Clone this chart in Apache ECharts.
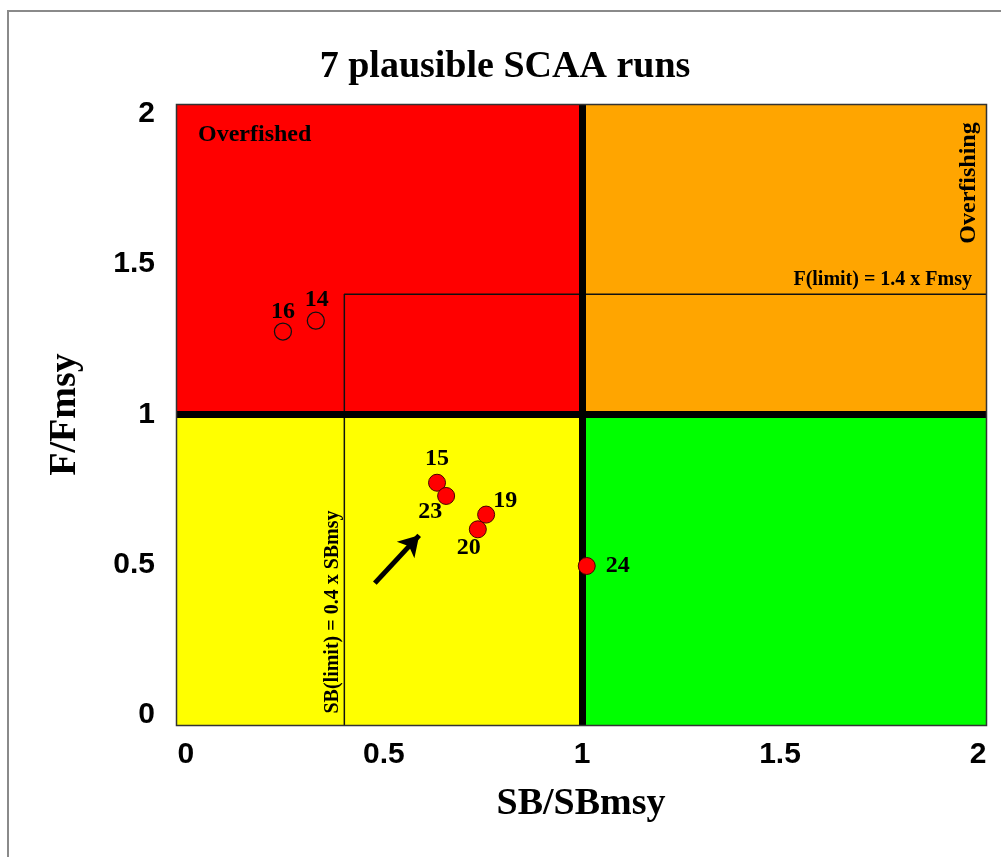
<!DOCTYPE html>
<html>
<head>
<meta charset="utf-8">
<script src="https://cdn.jsdelivr.net/npm/echarts@6/dist/echarts.min.js"></script>
<style>
html,body{margin:0;padding:0;background:#fff;}
#chart{width:1001px;height:857px;}
</style>
</head>
<body>
<div id="chart"></div>
<script>
// ---- data ----
const runIds   = ['16', '14', '15', '23', '19', '20', '24'];
const sbRatio  = [0.245, 0.328, 0.634, 0.657, 0.758, 0.737, 1.012];
const fRatio   = [1.276, 1.312, 0.773, 0.729, 0.667, 0.618, 0.496];
const openMark = [true, true, false, false, false, false, false];
const xTicks = [0, 0.5, 1, 1.5, 2];
const yTicks = [0, 0.5, 1, 1.5, 2];
const msyRef = 1;          // SB/SBmsy = 1 and F/Fmsy = 1
const sbLimit = 0.4;       // SB(limit) = 0.4 x SBmsy
const fLimit = 1.4;        // F(limit) = 1.4 x Fmsy
const arrowTail = [0.477, 0.439];
const arrowHead = [0.589, 0.598];

// ---- layout / styles ----
const X_MIN = -0.025, X_MAX = 2.02, Y_MIN = -0.033, Y_MAX = 2.033;
const SERIF = "'Liberation Serif', 'DejaVu Serif', serif";
const SANS = "'Liberation Sans', Arial, sans-serif";
const labelOffset = {
  '16': [0, -20], '14': [1, -21], '15': [0, -24], '23': [-16, 16],
  '19': [19, -14], '20': [-9, 18], '24': [31, 0]
};

const pts = runIds.map((id, i) => ({
  value: [sbRatio[i], fRatio[i]],
  name: id,
  itemStyle: openMark[i]
    ? { color: 'rgba(0,0,0,0)', borderColor: '#111', borderWidth: 1.3, opacity: 1 }
    : { color: '#FF0000', borderColor: '#4a0000', borderWidth: 1, opacity: 1 },
  label: { offset: labelOffset[id] }
}));

const chart = echarts.init(document.getElementById('chart'), null, { renderer: 'canvas' });
const axisCommon = {
  type: 'value',
  splitLine: { show: false },
  axisLine: { show: false },
  axisTick: { show: true, length: 8, lineStyle: { color: '#999', width: 1.5 } },
  axisLabel: { fontFamily: SANS, fontWeight: 'bold', fontSize: 30, color: '#000' }
};

chart.setOption({
  animation: false,
  backgroundColor: '#fff',
  grid: { left: 176, top: 104, right: 15, bottom: 132 },
  xAxis: Object.assign({}, axisCommon, {
    min: X_MIN, max: X_MAX,
    name: 'SB/SBmsy', nameLocation: 'middle', nameGap: 60,
    nameTextStyle: { fontFamily: SERIF, fontWeight: 'bold', fontSize: 38, color: '#000' },
    axisTick: Object.assign({}, axisCommon.axisTick, { customValues: xTicks }),
    axisLabel: Object.assign({}, axisCommon.axisLabel, { customValues: xTicks, margin: 15,
      formatter: v => String(v) })
  }),
  yAxis: Object.assign({}, axisCommon, {
    min: Y_MIN, max: Y_MAX,
    name: 'F/Fmsy', nameLocation: 'middle', nameGap: 92,
    nameTextStyle: { fontFamily: SERIF, fontWeight: 'bold', fontSize: 38, color: '#000' },
    axisTick: Object.assign({}, axisCommon.axisTick, { customValues: yTicks }),
    axisLabel: Object.assign({}, axisCommon.axisLabel, { customValues: yTicks, margin: 21,
      formatter: v => String(v) })
  }),
  series: [
    {
      name: 'zones', type: 'scatter', data: [], z: 1, silent: true,
      markArea: {
        silent: true,
        label: { show: false },
        data: [
          [{ coord: [X_MIN, msyRef], itemStyle: { color: '#FF0000', opacity: 1 } }, { coord: [msyRef, Y_MAX] }],
          [{ coord: [msyRef, msyRef], itemStyle: { color: '#FFA500', opacity: 1 } }, { coord: [X_MAX, Y_MAX] }],
          [{ coord: [X_MIN, Y_MIN], itemStyle: { color: '#FFFF00', opacity: 1 } }, { coord: [msyRef, msyRef] }],
          [{ coord: [msyRef, Y_MIN], itemStyle: { color: '#00FF00', opacity: 1 } }, { coord: [X_MAX, msyRef] }]
        ]
      }
    },
    {
      name: 'limits', type: 'line', z: 2, silent: true, symbol: 'none',
      lineStyle: { color: '#111', width: 1.5 },
      data: [[sbLimit, Y_MIN], [sbLimit, fLimit], [X_MAX, fLimit]]
    },
    {
      name: 'msy', type: 'scatter', data: [], z: 3, silent: true,
      markLine: {
        silent: true, symbol: 'none', label: { show: false },
        lineStyle: { color: '#000', width: 7, type: 'solid', opacity: 1 },
        data: [{ xAxis: msyRef }, { yAxis: msyRef }]
      }
    },
    {
      name: 'arrow', type: 'scatter', data: [], z: 4, silent: true,
      markLine: {
        silent: true, symbol: ['none', 'arrow'], symbolSize: [18, 20],
        label: { show: false },
        lineStyle: { color: '#000', width: 5, type: 'solid', opacity: 1 },
        data: [[{ coord: arrowTail }, { coord: arrowHead }]]
      }
    },
    {
      name: 'runs', type: 'scatter', z: 5, symbol: 'circle', symbolSize: 17,
      data: pts,
      label: {
        show: true, position: 'inside', formatter: p => p.name,
        fontFamily: SERIF, fontWeight: 'bold', fontSize: 24, color: '#000',
        textBorderWidth: 0
      }
    }
  ],
  graphic: [
    { type: 'polyline', z: 100, silent: true,
      shape: { points: [[8, 857], [8, 11], [1001, 11]] },
      style: { stroke: '#8a8a8a', lineWidth: 2, fill: null } },
    { type: 'rect', z: 100, silent: true,
      shape: { x: 176.5, y: 104.5, width: 810, height: 621 },
      style: { stroke: '#333', lineWidth: 1.5, fill: null } },
    { type: 'text', z: 100, x: 505, y: 67,
      style: { text: '7 plausible SCAA runs', font: "bold 38px " + SERIF, fill: '#000',
        textAlign: 'center', textVerticalAlign: 'middle' } },
    { type: 'text', z: 100, x: 198, y: 135,
      style: { text: 'Overfished', font: "bold 24px " + SERIF, fill: '#000',
        textAlign: 'left', textVerticalAlign: 'middle' } },
    { type: 'text', z: 100, x: 969, y: 183, rotation: Math.PI / 2,
      style: { text: 'Overfishing', font: "bold 24px " + SERIF, fill: '#000',
        textAlign: 'center', textVerticalAlign: 'middle' } },
    { type: 'text', z: 100, x: 972, y: 280,
      style: { text: 'F(limit) = 1.4 x Fmsy', font: "bold 20px " + SERIF, fill: '#000',
        textAlign: 'right', textVerticalAlign: 'middle' } },
    { type: 'text', z: 100, x: 333, y: 612, rotation: Math.PI / 2,
      style: { text: 'SB(limit) = 0.4 x SBmsy', font: "bold 20px " + SERIF, fill: '#000',
        textAlign: 'center', textVerticalAlign: 'middle' } }
  ]
});
</script>
</body>
</html>
